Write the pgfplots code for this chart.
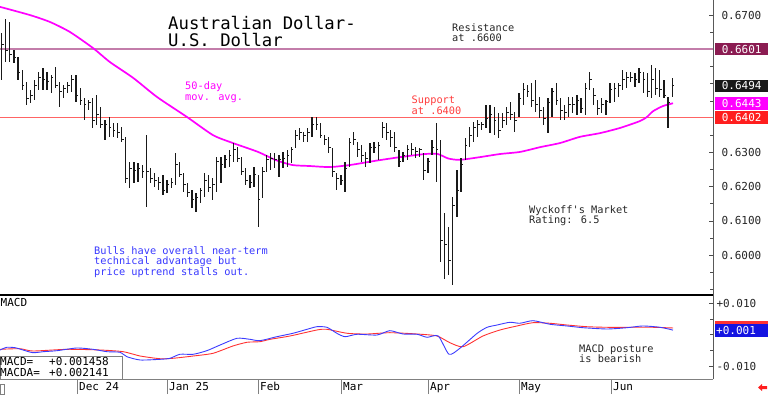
\documentclass[border=0pt]{standalone}
\usepackage{pgfplots}
\pgfplotsset{compat=1.18}
\usepackage{pgfplotstable}
\usepackage{fontspec}
\setmainfont{DejaVu Sans Mono}
\newfontfamily\mono{DejaVu Sans Mono}
\definecolor{barc}{RGB}{25,25,25}
\definecolor{ma}{RGB}{255,0,255}
\definecolor{resc}{RGB}{195,125,170}
\definecolor{supcol}{RGB}{255,100,100}
\definecolor{txtblue}{RGB}{55,55,255}
\definecolor{txtred}{RGB}{255,60,60}
\definecolor{macdb}{RGB}{60,60,255}
\definecolor{macdr}{RGB}{255,50,50}
\definecolor{maroon}{RGB}{139,28,82}
\definecolor{boxred}{RGB}{255,30,30}
\definecolor{boxblue}{RGB}{20,20,225}
\pgfdeclareplotmark{ctick}{\pgfpathmoveto{\pgfqpoint{0pt}{0pt}}\pgfpathlineto{\pgfqpoint{2.2pt}{0pt}}\pgfusepathqstroke}

\pgfplotstableread{
i h l c
0 0.6648 0.6511 0.6613
1 0.6689 0.6563 0.6598
2 0.6680 0.6563 0.6584
3 0.6598 0.6560 0.6575
4 0.6578 0.6511 0.6534
5 0.6540 0.6482 0.6496
6 0.6505 0.6438 0.6458
7 0.6482 0.6444 0.6467
8 0.6511 0.6452 0.6496
9 0.6534 0.6482 0.6517
10 0.6546 0.6482 0.6511
11 0.6534 0.6482 0.6505
12 0.6525 0.6473 0.6517
13 0.6549 0.6487 0.6496
14 0.6505 0.6432 0.6476
15 0.6496 0.6458 0.6487
16 0.6505 0.6473 0.6496
17 0.6525 0.6476 0.6511
18 0.6525 0.6447 0.6467
19 0.6487 0.6438 0.6452
20 0.6458 0.6394 0.6438
21 0.6452 0.6423 0.6444
22 0.6458 0.6371 0.6394
23 0.6467 0.6380 0.6409
24 0.6432 0.6371 0.6380
25 0.6394 0.6336 0.6380
26 0.6403 0.6345 0.6371
27 0.6385 0.6345 0.6365
28 0.6385 0.6342 0.6359
29 0.6374 0.6330 0.6336
30 0.6345 0.6211 0.6225
31 0.6272 0.6196 0.6254
32 0.6272 0.6211 0.6248
33 0.6269 0.6213 0.6254
34 0.6263 0.6225 0.6243
35 0.6350 0.6141 0.6243
36 0.6254 0.6211 0.6225
37 0.6240 0.6199 0.6219
38 0.6228 0.6190 0.6213
39 0.6234 0.6176 0.6190
40 0.6219 0.6181 0.6205
41 0.6225 0.6196 0.6213
42 0.6298 0.6205 0.6263
43 0.6272 0.6228 0.6234
44 0.6240 0.6184 0.6205
45 0.6211 0.6170 0.6184
46 0.6190 0.6138 0.6161
47 0.6181 0.6126 0.6167
48 0.6196 0.6152 0.6190
49 0.6240 0.6170 0.6219
50 0.6234 0.6184 0.6196
51 0.6225 0.6161 0.6205
52 0.6286 0.6184 0.6272
53 0.6286 0.6211 0.6263
54 0.6292 0.6254 0.6278
55 0.6307 0.6257 0.6292
56 0.6327 0.6272 0.6307
57 0.6315 0.6272 0.6283
58 0.6286 0.6234 0.6243
59 0.6254 0.6205 0.6219
60 0.6234 0.6196 0.6213
61 0.6257 0.6199 0.6234
62 0.6234 0.6082 0.6161
63 0.6257 0.6167 0.6243
64 0.6292 0.6243 0.6278
65 0.6298 0.6248 0.6283
66 0.6298 0.6254 0.6278
67 0.6292 0.6228 0.6278
68 0.6301 0.6254 0.6283
69 0.6307 0.6257 0.6292
70 0.6315 0.6269 0.6307
71 0.6365 0.6313 0.6350
72 0.6371 0.6336 0.6359
73 0.6359 0.6330 0.6350
74 0.6371 0.6330 0.6359
75 0.6403 0.6345 0.6380
76 0.6403 0.6365 0.6380
77 0.6385 0.6342 0.6350
78 0.6350 0.6321 0.6336
79 0.6345 0.6298 0.6313
80 0.6313 0.6228 0.6243
81 0.6240 0.6190 0.6225
82 0.6234 0.6205 0.6219
83 0.6272 0.6184 0.6254
84 0.6342 0.6257 0.6330
85 0.6359 0.6321 0.6336
86 0.6330 0.6286 0.6307
87 0.6321 0.6272 0.6292
88 0.6301 0.6257 0.6283
89 0.6327 0.6269 0.6313
90 0.6330 0.6298 0.6313
91 0.6330 0.6278 0.6321
92 0.6388 0.6342 0.6371
93 0.6385 0.6336 0.6359
94 0.6365 0.6315 0.6342
95 0.6359 0.6301 0.6313
96 0.6307 0.6257 0.6272
97 0.6301 0.6272 0.6292
98 0.6321 0.6278 0.6307
99 0.6327 0.6292 0.6307
100 0.6315 0.6283 0.6301
101 0.6313 0.6286 0.6307
102 0.6298 0.6219 0.6248
103 0.6283 0.6240 0.6272
104 0.6336 0.6292 0.6313
105 0.6385 0.6213 0.6307
106 0.6336 0.5980 0.6044
107 0.6123 0.5931 0.6030
108 0.6082 0.5942 0.5986
109 0.6170 0.5913 0.6146
110 0.6248 0.6111 0.6190
111 0.6283 0.6184 0.6263
112 0.6342 0.6278 0.6321
113 0.6374 0.6315 0.6350
114 0.6388 0.6330 0.6371
115 0.6394 0.6345 0.6380
116 0.6388 0.6365 0.6380
117 0.6438 0.6371 0.6400
118 0.6438 0.6356 0.6409
119 0.6432 0.6350 0.6394
120 0.6415 0.6342 0.6365
121 0.6415 0.6371 0.6394
122 0.6432 0.6380 0.6417
123 0.6447 0.6394 0.6409
124 0.6417 0.6359 0.6394
125 0.6473 0.6403 0.6458
126 0.6502 0.6438 0.6482
127 0.6496 0.6461 0.6476
128 0.6502 0.6432 0.6452
129 0.6511 0.6417 0.6438
130 0.6461 0.6400 0.6423
131 0.6432 0.6380 0.6400
132 0.6458 0.6356 0.6444
133 0.6487 0.6403 0.6476
134 0.6502 0.6438 0.6452
135 0.6458 0.6394 0.6423
136 0.6438 0.6394 0.6417
137 0.6461 0.6403 0.6438
138 0.6461 0.6415 0.6438
139 0.6467 0.6409 0.6452
140 0.6458 0.6415 0.6429
141 0.6502 0.6409 0.6487
142 0.6534 0.6482 0.6511
143 0.6487 0.6438 0.6467
144 0.6452 0.6409 0.6429
145 0.6458 0.6415 0.6438
146 0.6452 0.6409 0.6447
147 0.6502 0.6444 0.6482
148 0.6502 0.6447 0.6487
149 0.6502 0.6461 0.6496
150 0.6540 0.6482 0.6511
151 0.6534 0.6487 0.6517
152 0.6534 0.6505 0.6517
153 0.6531 0.6490 0.6511
154 0.6546 0.6502 0.6534
155 0.6534 0.6473 0.6511
156 0.6531 0.6461 0.6476
157 0.6555 0.6458 0.6511
158 0.6546 0.6467 0.6487
159 0.6540 0.6461 0.6482
160 0.6511 0.6458 0.6467
161 0.6461 0.6371 0.6444
162 0.6517 0.6461 0.6494
}\bars

\pgfplotstableread{
i v
-0.36 0.6724
6.9 0.6700
11.7 0.6680
16.5 0.6651
22.1 0.6604
26.2 0.6563
31.8 0.6517
37.6 0.6461
44.8 0.6403
51.1 0.6350
55.9 0.6327
62.0 0.6301
66.1 0.6278
70.2 0.6263
74.5 0.6260
79.3 0.6257
84.2 0.6263
90.2 0.6275
96.3 0.6286
102.3 0.6295
105.4 0.6295
107.9 0.6282
110.7 0.6278
115.6 0.6286
120.4 0.6295
125.2 0.6301
130.1 0.6315
134.9 0.6327
139.7 0.6345
144.6 0.6356
149.4 0.6371
154.2 0.6391
155.9 0.6403
157.4 0.6420
159.8 0.6435
162.2 0.6443
}\mavg

\pgfplotstableread{
i v
-0.36 -0.00488
1.3 -0.00402
3.3 -0.00415
5.2 -0.00488
7.6 -0.00574
10.1 -0.00542
13.4 -0.00510
18.2 -0.00424
22.1 -0.00466
25.5 -0.00542
28.6 -0.00561
30.3 -0.00702
33.5 -0.00807
38.3 -0.00785
40.7 -0.00753
43.1 -0.00625
46.3 -0.00625
49.6 -0.00510
52.8 -0.00329
56.9 -0.00115
60.0 -0.00147
62.4 -0.00191
66.5 -0.00064
70.4 0.00045
73.8 0.00172
76.2 0.00255
78.6 0.00236
81.0 0.00045
83.0 -0.00064
85.9 0.00013
90.7 -0.00010
93.8 0.00128
97.0 0.00022
100.4 0.00013
102.8 -0.00083
105.5 -0.00041
108.1 -0.00625
110.7 -0.00434
114.9 0.00045
117.3 0.00236
119.7 0.00309
122.8 0.00396
125.2 0.00364
128.4 0.00447
132.5 0.00332
136.6 0.00278
140.5 0.00223
146.3 0.00182
151.1 0.00223
154.9 0.00278
159.1 0.00236
162.2 0.00146
}\macd

\pgfplotstableread{
i v
-0.36 -0.00466
4.5 -0.00447
7.6 -0.00520
15.8 -0.00466
23.8 -0.00488
29.4 -0.00542
33.5 -0.00680
38.3 -0.00766
41.4 -0.00753
46.3 -0.00680
51.1 -0.00593
55.9 -0.00360
59.3 -0.00242
62.4 -0.00223
64.9 -0.00147
69.7 -0.00041
76.2 0.00150
78.6 0.00172
83.5 0.00045
88.3 0.00022
93.8 0.00064
100.4 0.00022
105.2 -0.00041
108.3 -0.00255
111.5 -0.00383
116.3 -0.00041
120.4 0.00150
124.5 0.00278
128.4 0.00383
132.5 0.00364
136.6 0.00309
141.4 0.00255
146.3 0.00236
152.5 0.00236
157.4 0.00236
162.2 0.00214
}\macda

\begin{document}
\begin{tikzpicture}
\path[use as bounding box] (0pt,0pt) rectangle (768pt,394pt);

% ---------------- price panel ----------------
\begin{axis}[
  at={(0pt,99pt)}, anchor=south west, scale only axis,
  width=713pt, height=295pt,
  xmin=-0.36, xmax=171.86, ymin=0.5884, ymax=0.6744,
  axis x line=none, axis y line*=right, clip=false,
  scaled y ticks=false,
  axis line style={draw=gray!70!black, line width=0.8pt},
  ytick={0.60,0.61,0.62,0.63,0.67},
  yticklabels={0.6000,0.6100,0.6200,0.6300,0.6700},
  minor ytick={0.59,0.595,0.605,0.615,0.625,0.635,0.645,0.65,0.655,0.66,0.665},
  tick align=inside, major tick length=4pt, minor tick length=3pt,
  tick style={draw=gray!60!black, line width=0.6pt},
  yticklabel style={font=\mono\fontsize{11}{11}\selectfont, anchor=west, xshift=5pt, text=black!85},
]
\addplot[draw=resc, line width=1.3pt] coordinates {(-0.36,0.6601) (171.86,0.6601)};
\addplot[draw=supcol, line width=1.5pt] coordinates {(-0.36,0.6402) (171.86,0.6402)};
\addplot[draw=ma, line width=1.7pt, smooth, tension=0.4] table[x=i,y=v] {\mavg};
\addplot[only marks, mark=ctick, mark options={draw=barc, line width=1pt},
  error bars/.cd, y dir=both, y explicit, error mark=none,
  error bar style={draw=barc, line width=1.25pt}]
  table[x=i, y=c, y error plus expr=\thisrow{h}-\thisrow{c}, y error minus expr=\thisrow{c}-\thisrow{l}] {\bars};
\node[fill=maroon, text=white, anchor=west, minimum width=53pt, minimum height=12.5pt, inner sep=0pt,
  font=\mono\fontsize{11}{11}\selectfont, xshift=2pt] at (axis cs:171.86,0.6601) {0.6601};
\node[fill=black!90, text=white, anchor=west, minimum width=53pt, minimum height=12.5pt, inner sep=0pt,
  font=\mono\fontsize{11}{11}\selectfont, xshift=2pt] at (axis cs:171.86,0.6494) {0.6494};
\node[fill=ma, text=white, anchor=west, minimum width=53pt, minimum height=12.5pt, inner sep=0pt,
  font=\mono\fontsize{11}{11}\selectfont, xshift=2pt] at (axis cs:171.86,0.6443) {0.6443};
\node[fill=boxred, text=white, anchor=west, minimum width=53pt, minimum height=12.5pt, inner sep=0pt,
  font=\mono\fontsize{11}{11}\selectfont, xshift=2pt] at (axis cs:171.86,0.6402) {0.6402};
\end{axis}

% ---------------- MACD panel ----------------
\begin{axis}[
  at={(0pt,15pt)}, anchor=south west, scale only axis,
  width=713pt, height=84pt,
  xmin=-0.36, xmax=171.86, ymin=-0.01413, ymax=0.01266,
  axis x line=none, axis y line*=right, clip=false,
  scaled y ticks=false,
  axis line style={draw=gray!70!black, line width=0.8pt},
  ytick={-0.01,0.01},
  yticklabels={-0.010,+0.010},
  minor ytick={-0.005,0,0.005},
  tick align=inside, major tick length=4pt, minor tick length=3pt,
  tick style={draw=gray!60!black, line width=0.6pt},
  yticklabel style={font=\mono\fontsize{11}{11}\selectfont, anchor=west, xshift=0pt, text=black!85},
]
\addplot[draw=macdr, line width=0.9pt, smooth, tension=0.4] table[x=i,y=v] {\macda};
\addplot[draw=macdb, line width=0.9pt, smooth, tension=0.4] table[x=i,y=v] {\macd};
\node[fill=macdr, anchor=west, minimum width=53pt, minimum height=13pt, inner sep=0pt, xshift=2pt]
  at (axis cs:171.86,0.002141) {};
\node[fill=boxblue, text=white, anchor=west, minimum width=53pt, minimum height=13pt, inner sep=0pt,
  font=\mono\fontsize{11}{11}\selectfont, xshift=2pt, align=left, text width=51pt] at (axis cs:171.86,0.001458) {+0.001};
\end{axis}

% separators and frames
\draw[black, line width=1.4pt] (0pt,99pt) -- (713pt,99pt);
\draw[gray, line width=0.8pt] (0pt,15pt) -- (713pt,15pt);
\foreach \xx in {77,167,258,341,428,519,611} {
  \draw[gray, line width=0.8pt] (\xx pt,0pt) -- (\xx pt,15pt);
}
\draw[gray, line width=0.6pt] (0pt,0pt) rectangle (4pt,10pt);

% date labels
\begin{scope}[every node/.style={anchor=base west, inner sep=0pt, font=\mono\fontsize{11}{11}\selectfont}]
\node at (79pt,3.5pt) {Dec 24};
\node at (169pt,3.5pt) {Jan 25};
\node at (260pt,3.5pt) {Feb};
\node at (343pt,3.5pt) {Mar};
\node at (430pt,3.5pt) {Apr};
\node at (521pt,3.5pt) {May};
\node at (613pt,3.5pt) {Jun};
\end{scope}

% red arrow
\fill[boxred] (758pt,6.5pt) -- (762pt,10pt) -- (762pt,8pt) -- (767pt,8pt) -- (767pt,5pt) -- (762pt,5pt) -- (762pt,3pt) -- cycle;

% MACD value box
\draw[gray, fill=white, line width=0.8pt] (0pt,15pt) rectangle (122pt,38pt);
\begin{scope}[every node/.style={anchor=base west, inner sep=0pt, font=\mono\fontsize{11}{11}\selectfont}]
\node at (0pt,28.5pt) {MACD=};
\node at (49pt,28.5pt) {+0.001458};
\node at (0pt,18pt) {MACDA=};
\node at (49pt,18pt) {+0.002141};
\node at (0.5pt,87.3pt) {MACD};
\end{scope}

% annotations
\node[anchor=base west, inner sep=0pt, font=\mono\fontsize{17.3}{17.3}\selectfont] at (168pt,364.5pt) {Australian Dollar-};
\node[anchor=base west, inner sep=0pt, font=\mono\fontsize{17.3}{17.3}\selectfont] at (168pt,347.2pt) {U.S. Dollar};
\begin{scope}[every node/.style={anchor=base west, inner sep=0pt, font=\mono\fontsize{10.3}{10.3}\selectfont}]
\node[text=black!85] at (452pt,362.3pt) {Resistance};
\node[text=black!85] at (452pt,352pt) {at .6600};
\node[text=ma] at (185pt,304pt) {50-day};
\node[text=ma] at (185pt,293.5pt) {mov. avg.};
\node[text=txtred] at (411.5pt,290.2pt) {Support};
\node[text=txtred] at (411.5pt,279.7pt) {at .6400};
\node[text=black!85] at (529pt,180.5pt) {Wyckoff's Market};
\node[text=black!85] at (529pt,170.2pt) {Rating: 6.5};
\node[text=txtblue] at (94pt,140pt) {Bulls have overall near-term};
\node[text=txtblue] at (94pt,129.3pt) {technical advantage but};
\node[text=txtblue] at (94pt,118.6pt) {price uptrend stalls out.};
\node[text=black!85] at (579pt,41.7pt) {MACD posture};
\node[text=black!85] at (579pt,31.5pt) {is bearish};
\end{scope}
\end{tikzpicture}
\end{document}
